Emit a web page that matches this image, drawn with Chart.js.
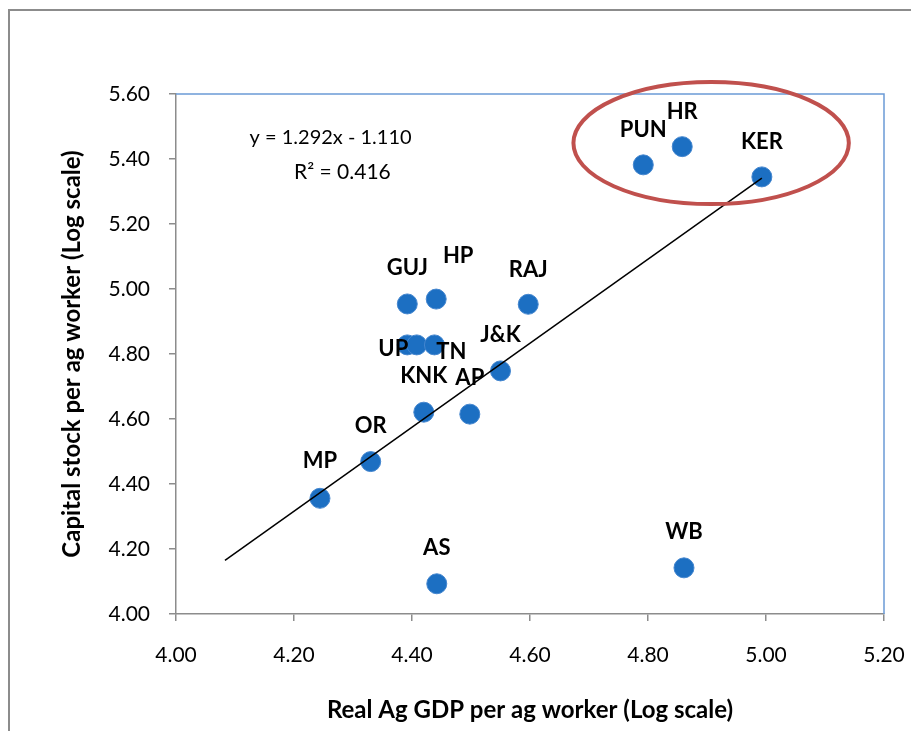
<!DOCTYPE html>
<html>
<head>
<meta charset="utf-8">
<script src="https://cdn.jsdelivr.net/npm/chart.js@4.4.1/dist/chart.umd.min.js"></script>
<style>
  html, body { margin: 0; padding: 0; background: #fff; }
  #wrap { width: 911px; height: 731px; }
</style>
</head>
<body>
<div id="wrap"><canvas id="scatter" width="911" height="731"></canvas></div>
<script>
// state data (log scale values)
const stateLabels = ['PUN', 'HR', 'KER', 'GUJ', 'HP', 'RAJ', 'UP', '', 'TN', 'J&K', 'KNK', 'AP', 'OR', 'MP', 'AS', 'WB'];
const gdpPerWorker = [4.792, 4.858, 4.993, 4.392, 4.441, 4.597, 4.392, 4.408, 4.438, 4.550, 4.420, 4.498, 4.330, 4.244, 4.442, 4.861];
const capitalPerWorker = [5.382, 5.438, 5.345, 4.954, 4.969, 4.953, 4.828, 4.828, 4.828, 4.748, 4.621, 4.615, 4.469, 4.356, 4.093, 4.142];

// trend line end points (y = 1.292x - 1.110)
const trendX = [4.083, 4.993];
const trendY = [4.165, 5.341];
const equationText = 'y = 1.292x - 1.110';
const r2Text = 'R\u00B2 = 0.416';

const xTicks = [4.00, 4.20, 4.40, 4.60, 4.80, 5.00, 5.20];
const yTicks = [4.00, 4.20, 4.40, 4.60, 4.80, 5.00, 5.20, 5.40, 5.60];

// where each label sits relative to its point (px)
const labelOffsets = [[0, -35], [0, -35], [0, -35], [0, -36], [22, -43], [0, -34], [-14, 4], [0, 0], [17, 7],
  [0, -36], [0, -36], [0, -36], [0, -36], [0, -37], [0, -36], [0, -36]];

const FONT = 'Lato, "Open Sans", sans-serif';

const points = gdpPerWorker.map((x, i) => ({ x: x, y: capitalPerWorker[i] }));
const trend = trendX.map((x, i) => ({ x: x, y: trendY[i] }));

const decorPlugin = {
    id: 'decor',
    beforeDraw(chart) {
        const ctx = chart.ctx;
        ctx.save();
        ctx.fillStyle = '#fff';
        ctx.fillRect(0, 0, chart.width, chart.height);
        // outer chart border (cut off at right and bottom)
        ctx.strokeStyle = '#8c8c8c';
        ctx.lineWidth = 2;
        ctx.beginPath();
        ctx.moveTo(9, chart.height + 2);
        ctx.lineTo(9, 10);
        ctx.lineTo(chart.width + 2, 10);
        ctx.stroke();
        ctx.restore();
    },
    afterDatasetsDraw(chart) {
        const ctx = chart.ctx;
        const xs = chart.scales.x, ys = chart.scales.y;
        const a = chart.chartArea;
        ctx.save();
        // plot frame top / right
        ctx.strokeStyle = '#6b9bd6';
        ctx.lineWidth = 1.5;
        ctx.beginPath();
        ctx.moveTo(a.left, a.top);
        ctx.lineTo(a.right, a.top);
        ctx.lineTo(a.right, a.bottom);
        ctx.stroke();

        // point labels
        ctx.fillStyle = '#000';
        ctx.font = 'bold 22px ' + FONT;
        ctx.textAlign = 'center';
        ctx.textBaseline = 'middle';
        stateLabels.forEach((lab, i) => {
            if (!lab) return;
            const px = xs.getPixelForValue(gdpPerWorker[i]);
            const py = ys.getPixelForValue(capitalPerWorker[i]);
            ctx.fillText(lab, px + labelOffsets[i][0], py + labelOffsets[i][1]);
        });

        // equation
        ctx.font = '20px ' + FONT;
        ctx.fillText(equationText, xs.getPixelForValue(4.262), ys.getPixelForValue(5.465));
        ctx.font = '21px ' + FONT;
        ctx.fillText(r2Text, xs.getPixelForValue(4.282), ys.getPixelForValue(5.36));

        // highlight ellipse round PUN, HR, KER
        const cx = xs.getPixelForValue(4.907), cy = ys.getPixelForValue(5.449);
        const rx = xs.getPixelForValue(4.907 + 0.2334) - cx;
        const ry = cy - ys.getPixelForValue(5.449 + 0.1877);
        ctx.strokeStyle = '#c0504d';
        ctx.lineWidth = 4;
        ctx.beginPath();
        ctx.ellipse(cx, cy, rx, ry, 0, 0, Math.PI * 2);
        ctx.stroke();
        ctx.restore();
    }
};

new Chart(document.getElementById('scatter'), {
    type: 'scatter',
    data: {
        datasets: [{
            label: 'States',
            data: points,
            backgroundColor: '#1c6fc2',
            borderColor: '#4486cf',
            borderWidth: 1,
            pointRadius: 10,
            order: 2
        }, {
            type: 'line',
            label: 'Trend',
            data: trend,
            borderColor: '#000',
            borderWidth: 1.5,
            pointRadius: 0,
            fill: false,
            order: 1
        }]
    },
    options: {
        responsive: false,
        animation: false,
        layout: { padding: { left: 48, top: 94, right: 27, bottom: 0 } },
        plugins: {
            legend: { display: false },
            tooltip: { enabled: false }
        },
        scales: {
            x: {
                type: 'linear',
                min: 4.0,
                max: 5.2,
                afterBuildTicks: s => { s.ticks = xTicks.map(v => ({ value: v })); },
                afterFit: s => { s.height = 117; s.paddingLeft = 0; s.paddingRight = 0; },
                border: { color: '#8c8c8c', width: 1.5 },
                grid: { drawOnChartArea: false, tickLength: 7, color: '#8c8c8c', lineWidth: 1.5 },
                ticks: {
                    padding: 22,
                    color: '#000',
                    font: { family: FONT, size: 21 },
                    callback: v => v.toFixed(2)
                },
                title: {
                    display: true,
                    text: 'Real Ag GDP per ag worker (Log scale)',
                    color: '#000',
                    font: { family: FONT, size: 24, weight: 'bold' },
                    padding: { top: 0, bottom: 6 }
                }
            },
            y: {
                type: 'linear',
                min: 4.0,
                max: 5.6,
                afterBuildTicks: s => { s.ticks = yTicks.map(v => ({ value: v })); },
                afterFit: s => { s.width = 128; s.paddingTop = 0; s.paddingBottom = 0; },
                border: { color: '#8c8c8c', width: 1.5 },
                grid: { drawOnChartArea: false, tickLength: 7, color: '#8c8c8c', lineWidth: 1.5 },
                ticks: {
                    padding: 19,
                    color: '#000',
                    font: { family: FONT, size: 21 },
                    callback: v => v.toFixed(2)
                },
                title: {
                    display: true,
                    text: 'Capital stock per ag worker (Log scale)',
                    color: '#000',
                    font: { family: FONT, size: 24, weight: 'bold' },
                    padding: { top: 10, bottom: 0 }
                }
            }
        }
    },
    plugins: [decorPlugin]
});
</script>
</body>
</html>
